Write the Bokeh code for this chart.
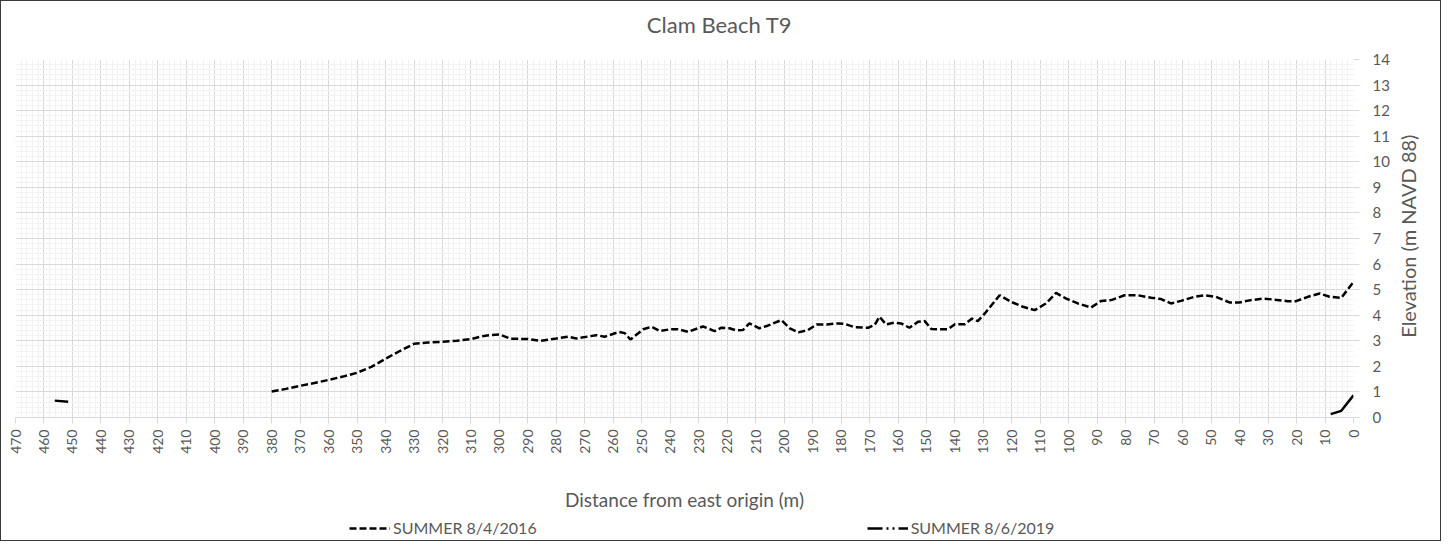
import numpy as np
from bokeh.plotting import figure
from bokeh.layouts import column, row
from bokeh.models import Range1d, FixedTicker, Legend, LegendItem
from bokeh.core.properties import value
from bokeh.embed import file_html
from bokeh.resources import INLINE

# ---- data ----
dist_2016 = [380, 375, 370, 365, 360, 355, 350, 345, 340, 335, 330, 325, 320, 315, 310,
             305, 300, 296, 290, 285.5, 280, 276, 273, 266, 263, 258, 256, 254, 249.5,
             246.5, 243.6, 240, 237.3, 233.8, 228.5, 224.4, 222, 219.2, 216.9, 214.5,
             212.2, 208.7, 205.8, 201, 198, 195, 191.6, 188.6, 185, 181, 178.7, 175.2,
             170.5, 168.2, 166.5, 164.2, 161.2, 158.9, 156, 153, 150.6, 148.3, 144.8,
             142.4, 140, 136.5, 134, 132, 129.5, 124.3, 120.2, 116.1, 112, 108, 104.5,
             100.9, 96.8, 92.2, 88.6, 85.1, 80.4, 75.7, 71, 67.6, 64.1, 60.6, 55.9, 52.4,
             48.3, 43.6, 40.1, 36, 31.9, 27.8, 23.1, 20.2, 16, 11.9, 8.4, 4.3, 0]
elev_2016 = [1.02, 1.12, 1.24, 1.35, 1.47, 1.6, 1.75, 1.98, 2.3, 2.6, 2.88, 2.93, 2.96, 3.0, 3.07,
             3.2, 3.25, 3.08, 3.07, 3.0, 3.09, 3.16, 3.09, 3.22, 3.16, 3.35, 3.3, 3.05, 3.45,
             3.55, 3.38, 3.45, 3.45, 3.35, 3.56, 3.38, 3.51, 3.49, 3.41, 3.42,
             3.68, 3.49, 3.59, 3.81, 3.49, 3.33, 3.42, 3.64, 3.64, 3.68, 3.66, 3.53,
             3.51, 3.62, 3.94, 3.64, 3.71, 3.68, 3.51, 3.74, 3.77, 3.46, 3.45,
             3.45, 3.65, 3.65, 3.87, 3.77, 4.07, 4.78, 4.52, 4.33, 4.2, 4.46, 4.87,
             4.65, 4.46, 4.3, 4.56, 4.59, 4.78, 4.78, 4.68, 4.63, 4.46, 4.56, 4.72, 4.78,
             4.72, 4.5, 4.5, 4.59, 4.65, 4.61, 4.55, 4.55, 4.72, 4.85, 4.72, 4.68, 5.3]

dist_2019 = [456.2, 451.5, np.nan, 8.0, 4.3, 0.0]
elev_2019 = [0.66, 0.62, np.nan, 0.13, 0.26, 0.87]

x_ticks = list(range(0, 471, 10))
x_minor = list(range(0, 471, 2))
y_ticks = list(range(0, 15))
y_minor = [i / 5 for i in range(0, 71)]

title_text = "Clam Beach T9"
x_title = "Distance from east origin (m)"
y_title = "Elevation (m NAVD 88)"
label_2016 = "SUMMER 8/4/2016"
label_2019 = "SUMMER 8/6/2019"

FONT = "Lato"
TXT = "#595959"
DASH_2016 = "7 3"
DASH_2019 = "15 4 2 4 2 4"

# layout sizes (pixels)
LEFT, FRAME_W, RIGHT = 14, 1338, 38
TOP, FRAME_H, BOTTOM = 10, 358, 96
MAIN_W = LEFT + FRAME_W + RIGHT
MAIN_H = TOP + FRAME_H + BOTTOM
YLAB_W = 48
TOTAL_W = MAIN_W + YLAB_W
TITLE_H = 48
LEG_H = 27


def strip(w, h):
    f = figure(width=w, height=h, x_range=Range1d(0, w), y_range=Range1d(0, h),
               output_backend="svg", toolbar_location=None,
               min_border_left=0, min_border_right=0, min_border_top=0, min_border_bottom=0)
    f.axis.visible = False
    f.grid.visible = False
    f.outline_line_color = None
    return f


# ---- main plot ----
p = figure(frame_width=FRAME_W, frame_height=FRAME_H, x_range=Range1d(470, 0), y_range=Range1d(0, 14),
           y_axis_location="right", output_backend="svg", toolbar_location=None,
           min_border_left=LEFT, min_border_right=RIGHT, min_border_top=TOP, min_border_bottom=BOTTOM)
p.outline_line_color = None
p.background_fill_color = "white"

xa = p.xaxis[0]
xa.ticker = FixedTicker(ticks=x_ticks, minor_ticks=x_minor)
xa.major_label_orientation = np.pi / 2
xa.major_label_text_font = FONT
xa.major_label_text_font_size = "14px"
xa.major_label_text_color = TXT
xa.major_label_standoff = 6
xa.major_tick_out = 6
xa.major_tick_in = 0
xa.minor_tick_out = 0
xa.minor_tick_in = 0
xa.major_tick_line_color = "#D9D9D9"
xa.axis_line_color = "#D9D9D9"
xa.axis_label = x_title
xa.axis_label_text_font = FONT
xa.axis_label_text_font_size = "19px"
xa.axis_label_text_font_style = "normal"
xa.axis_label_text_color = TXT
xa.axis_label_standoff = 31

ya = p.yaxis[0]
ya.ticker = FixedTicker(ticks=y_ticks, minor_ticks=y_minor)
ya.major_label_text_font = FONT
ya.major_label_text_font_size = "15px"
ya.major_label_text_color = TXT
ya.major_label_standoff = 13
ya.major_tick_out = 6
ya.major_tick_in = 0
ya.minor_tick_out = 0
ya.minor_tick_in = 0
ya.major_tick_line_color = "#D9D9D9"
ya.axis_line_color = None

for g in (p.xgrid[0], p.ygrid[0]):
    g.grid_line_color = "#D9D9D9"
    g.grid_line_width = 1
    g.minor_grid_line_color = "#F2F2F2"
    g.minor_grid_line_width = 1
p.xgrid[0].ticker = FixedTicker(ticks=x_ticks, minor_ticks=x_minor)
p.ygrid[0].ticker = FixedTicker(ticks=y_ticks, minor_ticks=y_minor)

p.line(dist_2016, elev_2016, line_color="black", line_width=2.5, line_dash=DASH_2016)
p.line(dist_2019, elev_2019, line_color="black", line_width=2.5)

# ---- title strip ----
tf = strip(TOTAL_W, TITLE_H)
tf.text(x=[718], y=[TITLE_H - 23], text=[title_text], text_align="center", text_baseline="middle",
        text_font=value(FONT), text_font_size="22px", text_color=TXT)

# ---- y-axis title strip (reads bottom to top) ----
yf = strip(YLAB_W, MAIN_H)
yf.text(x=[15], y=[MAIN_H - TOP - FRAME_H / 2 - 40], text=[y_title], angle=np.pi / 2,
        text_align="center", text_baseline="middle",
        text_font=value(FONT), text_font_size="20px", text_color=TXT)

# ---- legend strip ----
lf = strip(TOTAL_W, LEG_H)
l16 = lf.line([np.nan], [np.nan], line_color="black", line_width=2.5, line_dash=DASH_2016)
l19 = lf.line([np.nan], [np.nan], line_color="black", line_width=2.5, line_dash=DASH_2019)
legend = Legend(items=[LegendItem(label=label_2016, renderers=[l16]),
                       LegendItem(label=label_2019, renderers=[l19])],
                orientation="horizontal", location=(348, 3),
                glyph_width=41, glyph_height=16, label_standoff=3, spacing=330,
                padding=4, margin=0, border_line_color=None, background_fill_alpha=0,
                label_text_font=FONT, label_text_font_size="16px", label_text_color=TXT)
lf.add_layout(legend, "center")

layout = column(tf, row(p, yf, spacing=0), lf, spacing=0)
layout.styles = {"border": "1px solid #3a3a3a"}

open("out.html", "w").write(file_html(layout, INLINE))
